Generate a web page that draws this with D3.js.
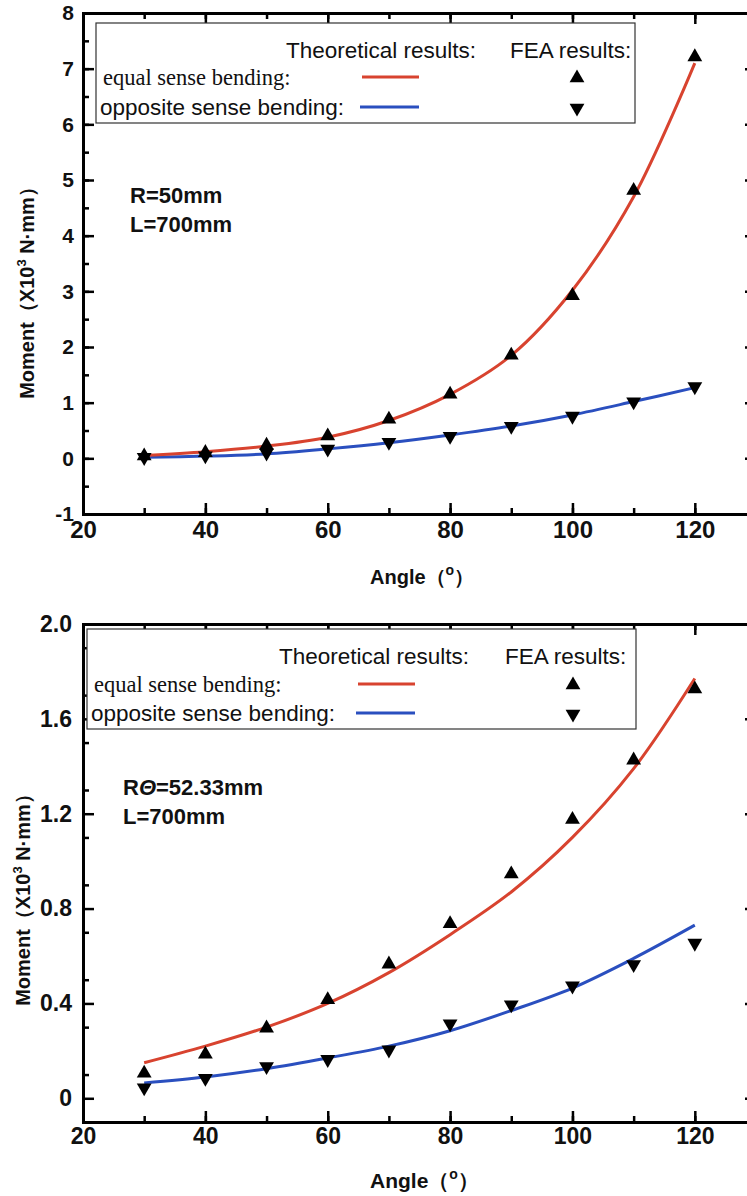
<!DOCTYPE html>
<html>
<head>
<meta charset="utf-8">
<script src="https://cdn.jsdelivr.net/npm/d3@7"></script>
<style>
  body { margin: 0; background: #fff; }
  svg { display: block; font-family: "Liberation Sans", Arial, sans-serif; }
</style>
</head>
<body>
<div class="mainWrapper"></div>
<script>
// angles where values are read (degrees)
var angles = [30, 40, 50, 60, 70, 80, 90, 100, 110, 120];

// top panel: R=50mm
var topEqualTheory = [0.05, 0.12, 0.22, 0.38, 0.68, 1.15, 1.85, 3.02, 4.7, 7.1];
var topEqualFEA    = [0.06, 0.12, 0.25, 0.42, 0.72, 1.17, 1.87, 2.94, 4.83, 7.23];
var topOppTheory   = [0.02, 0.04, 0.08, 0.17, 0.28, 0.42, 0.58, 0.78, 1.02, 1.27];
var topOppFEA      = [0.0, 0.03, 0.08, 0.15, 0.27, 0.38, 0.56, 0.74, 1.0, 1.27];
var topYTicks = [-1, 0, 1, 2, 3, 4, 5, 6, 7, 8];

// bottom panel: R theta = 52.33mm
var botEqualTheory = [0.15, 0.22, 0.30, 0.40, 0.53, 0.69, 0.87, 1.1, 1.39, 1.77];
var botEqualFEA    = [0.11, 0.19, 0.30, 0.42, 0.57, 0.74, 0.95, 1.18, 1.43, 1.73];
var botOppTheory   = [0.065, 0.09, 0.125, 0.17, 0.22, 0.285, 0.37, 0.465, 0.59, 0.73];
var botOppFEA      = [0.04, 0.08, 0.13, 0.16, 0.20, 0.31, 0.39, 0.47, 0.56, 0.65];
var botYTicks = [0, 0.4, 0.8, 1.2, 1.6, 2.0];

var xTicks = [20, 40, 60, 80, 100, 120];

var red = "#d8432f", blue = "#2a4fbf";

var svg = d3.select(".mainWrapper")
  .append("svg")
    .attr("width", 747)
    .attr("height", 1196);

function drawPanel(p) {
  var g = svg.append("g");

  var x = d3.scaleLinear().domain([20, 130]).range([83, 756]);
  var y = d3.scaleLinear().domain(p.yDomain).range([p.bottom, p.top]);

  var minorX = d3.range(20, 131, 10);
  var minorY = d3.range(p.yDomain[0], p.yDomain[1] + 1e-9, p.yMinor);

  // minor ticks (inward, short)
  g.append("g").attr("transform", "translate(0," + p.bottom + ")")
    .call(d3.axisBottom(x).tickValues(minorX).tickSize(-6).tickFormat(""));
  g.append("g").attr("transform", "translate(0," + p.top + ")")
    .call(d3.axisTop(x).tickValues(minorX).tickSize(-6).tickFormat(""));
  g.append("g").attr("transform", "translate(83,0)")
    .call(d3.axisLeft(y).tickValues(minorY).tickSize(-6).tickFormat(""));
  g.append("g").attr("transform", "translate(756,0)")
    .call(d3.axisRight(y).tickValues(minorY).tickSize(-6).tickFormat(""));

  // major ticks + labels
  var xAxis = g.append("g").attr("class", "xAxis")
    .attr("transform", "translate(0," + p.bottom + ")")
    .call(d3.axisBottom(x).tickValues(xTicks).tickSize(-11).tickPadding(p.xPad).tickFormat(d3.format("d")));
  xAxis.selectAll("text")
    .style("font-size", p.xFont + "px").style("font-weight", "bold").style("fill", "#111");

  g.append("g").attr("transform", "translate(0," + p.top + ")")
    .call(d3.axisTop(x).tickValues(xTicks).tickSize(-11).tickFormat(""));

  var yAxis = g.append("g").attr("class", "yAxis")
    .attr("transform", "translate(83,0)")
    .call(d3.axisLeft(y).tickValues(p.yTicks).tickSize(-11).tickPadding(p.yPad).tickFormat(p.yFormat));
  yAxis.selectAll("text")
    .style("font-size", p.yFont + "px").style("font-weight", "bold").style("fill", "#111");

  g.append("g").attr("transform", "translate(756,0)")
    .call(d3.axisRight(y).tickValues(p.yTicks).tickSize(-11).tickFormat(""));

  g.selectAll(".domain").attr("stroke", "#000").attr("stroke-width", 3);
  g.selectAll(".tick line").attr("stroke", "#000").attr("stroke-width", 2.5);

  // theory curves
  var line = d3.line()
    .x(function(d) { return x(d[0]); })
    .y(function(d) { return y(d[1]); })
    .curve(d3.curveCatmullRom.alpha(0.5));

  g.append("path").datum(d3.zip(angles, p.oppTheory))
    .attr("fill", "none").attr("stroke", blue).attr("stroke-width", 3).attr("d", line);
  g.append("path").datum(d3.zip(angles, p.equalTheory))
    .attr("fill", "none").attr("stroke", red).attr("stroke-width", 3).attr("d", line);

  // FEA markers
  var tri = d3.symbol().type(d3.symbolTriangle).size(95);
  g.append("g").selectAll("path")
    .data(d3.zip(angles, p.equalFEA))
    .enter().append("path")
      .attr("d", tri)
      .attr("transform", function(d) { return "translate(" + x(d[0]) + "," + (y(d[1]) + 1) + ")"; })
      .attr("fill", "#000");
  g.append("g").selectAll("path")
    .data(d3.zip(angles, p.oppFEA))
    .enter().append("path")
      .attr("d", tri)
      .attr("transform", function(d) { return "translate(" + x(d[0]) + "," + (y(d[1]) - 1) + ") rotate(180)"; })
      .attr("fill", "#000");

  // legend box
  var L = p.legend;
  g.append("rect")
    .attr("x", L.x).attr("y", L.y).attr("width", L.w).attr("height", L.h)
    .attr("fill", "#fff").attr("stroke", "#333").attr("stroke-width", 1.2);
  g.append("text").attr("x", L.x + L.thX).attr("y", L.y + 35)
    .style("font-size", "22.5px").style("fill", "#111").text("Theoretical results:");
  g.append("text").attr("x", L.x + L.feaX).attr("y", L.y + 35)
    .style("font-size", "22.5px").style("fill", "#111").text("FEA results:");
  g.append("text").attr("x", L.x + 7).attr("y", L.y + L.r1 + 5)
    .style("font-family", "'Liberation Serif', 'Times New Roman', serif")
    .style("font-size", "22.5px").style("fill", "#111").text("equal sense bending:");
  g.append("text").attr("x", L.x + 4).attr("y", L.y + L.r2 + 5)
    .style("font-size", "22.5px").style("fill", "#111").text("opposite sense bending:");
  g.append("line").attr("x1", L.x + L.lineX).attr("x2", L.x + L.lineX + 57)
    .attr("y1", L.y + L.r1 - 3).attr("y2", L.y + L.r1 - 3)
    .attr("stroke", red).attr("stroke-width", 3);
  g.append("line").attr("x1", L.x + L.lineX - 2).attr("x2", L.x + L.lineX + 57)
    .attr("y1", L.y + L.r2 - 3).attr("y2", L.y + L.r2 - 3)
    .attr("stroke", blue).attr("stroke-width", 3);
  g.append("path").attr("d", tri)
    .attr("transform", "translate(" + (L.x + L.triX) + "," + (L.y + L.r1 - 2) + ")");
  g.append("path").attr("d", tri)
    .attr("transform", "translate(" + (L.x + L.triX) + "," + (L.y + L.r2 - 2) + ") rotate(180)");

  // annotation
  var a = g.append("text").attr("x", p.note.x).attr("y", p.note.y)
    .style("font-size", "22px").style("font-weight", "bold").style("fill", "#111");
  if (p.note.theta) {
    a.append("tspan").text("R");
    a.append("tspan").style("font-style", "italic").text("Θ");
    a.append("tspan").text("=52.33mm");
  } else {
    a.text("R=50mm");
  }
  g.append("text").attr("x", p.note.x).attr("y", p.note.y + 29)
    .style("font-size", "22px").style("font-weight", "bold").style("fill", "#111")
    .text("L=700mm");

  // axis titles
  var yl = g.append("text")
    .attr("transform", "translate(" + p.yTitle.x + "," + p.yTitle.y + ") rotate(-90)")
    .style("text-anchor", "middle").style("font-size", "20px").style("font-weight", "bold").style("fill", "#111");
  yl.append("tspan").text("Moment（X10");
  yl.append("tspan").attr("dy", -8).style("font-size", "13px").text("3");
  yl.append("tspan").attr("dy", 8).text(" N·mm）");

  var xl = g.append("text")
    .attr("x", 370).attr("y", p.xTitleY)
    .style("font-size", p.xTitleFont + "px").style("font-weight", "bold").style("fill", "#111");
  xl.append("tspan").text("Angle（");
  xl.append("tspan").attr("dy", -9).style("font-size", "14px").text("o");
  xl.append("tspan").attr("dy", 9).text("）");
}

drawPanel({
  top: 13, bottom: 514, yDomain: [-1, 8], yMinor: 0.5, yTicks: topYTicks,
  yFormat: function(d) { return String(d); },
  xFont: 24, xPad: 7, yFont: 21, yPad: 9,
  equalTheory: topEqualTheory, equalFEA: topEqualFEA, oppTheory: topOppTheory, oppFEA: topOppFEA,
  legend: {x: 96, y: 23, w: 539, h: 100, r1: 80 - 23, r2: 110 - 23, triX: 481, thX: 190, feaX: 414, lineX: 266},
  note: {x: 130, y: 203},
  yTitle: {x: 34, y: 288},
  xTitleY: 584, xTitleFont: 20
});

drawPanel({
  top: 624, bottom: 1122, yDomain: [-0.1, 2.0], yMinor: 0.2, yTicks: botYTicks,
  yFormat: function(d) { return d === 0 ? "0" : d.toFixed(1); },
  xFont: 23, xPad: 6, yFont: 23, yPad: 11,
  equalTheory: botEqualTheory, equalFEA: botEqualFEA, oppTheory: botOppTheory, oppFEA: botOppFEA,
  legend: {x: 87, y: 629, w: 549, h: 100, r1: 687 - 629, r2: 716 - 629, triX: 486, thX: 192, feaX: 418, lineX: 271},
  note: {x: 123, y: 795, theta: true},
  yTitle: {x: 30, y: 895},
  xTitleY: 1188, xTitleFont: 21
});
</script>
</body>
</html>
